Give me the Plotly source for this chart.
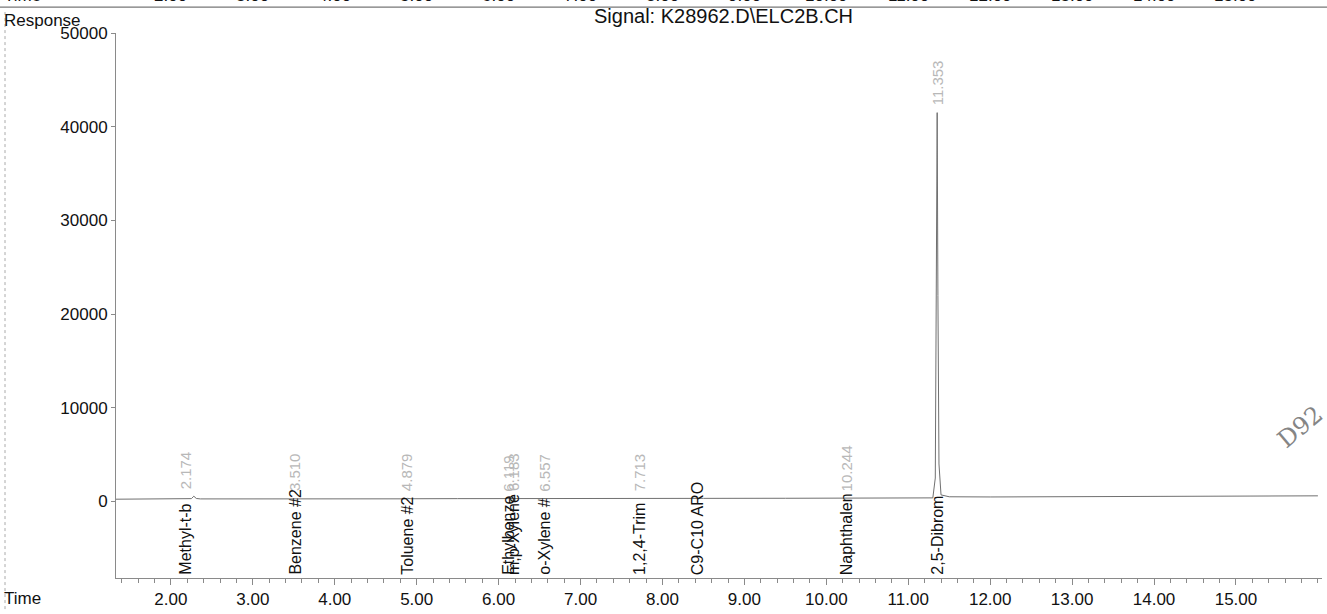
import plotly.graph_objects as go

# ---- chromatogram data -------------------------------------------------------
# detector trace (time in minutes, response in counts)
time_min = [1.32, 1.80, 2.00, 2.20, 2.25, 2.28, 2.31, 2.36, 3.00, 3.49, 3.52,
            3.56, 4.00, 4.86, 4.89, 4.93, 5.50, 6.10, 6.20, 6.55, 6.60, 7.00,
            7.70, 7.75, 8.50, 9.50, 10.23, 10.27, 11.00, 11.30, 11.330, 11.345,
            11.353, 11.362, 11.375, 11.40, 11.50, 12.00, 13.00, 14.00, 15.00,
            16.00]
response = [240, 250, 250, 260, 300, 560, 320, 270, 260, 270, 320,
            280, 270, 280, 330, 290, 300, 320, 330, 320, 300, 310,
            330, 320, 330, 340, 360, 350, 360, 380, 2500, 24000,
            41500, 22000, 4000, 700, 500, 480, 500, 520, 560,
            600]

# integrated peaks: retention time, compound label, apex height
peak_rt = [2.174, 3.510, 4.879, 6.119, 6.183, 6.557, 7.713, 10.244, 11.353]
peak_name = ["Methyl-t-b", "Benzene #2", "Toluene #2", "Ethylbenze",
             "m,p-Xylene", "o-Xylene #", "1,2,4-Trim", "Naphthalen",
             "2,5-Dibrom"]
peak_apex = [560, 320, 330, 320, 330, 320, 330, 360, 41500]

# retention window marker without its own peak
window_pos = [8.43]
window_name = ["C9-C10 ARO"]

x_ticks = [2, 3, 4, 5, 6, 7, 8, 9, 10, 11, 12, 13, 14, 15]
x_ticktext = ["2.00", "3.00", "4.00", "5.00", "6.00", "7.00", "8.00", "9.00",
              "10.00", "11.00", "12.00", "13.00", "14.00", "15.00"]
y_ticks = [0, 10000, 20000, 30000, 40000, 50000]
y_ticktext = ["0", "10000", "20000", "30000", "40000", "50000"]

signal_title = "Signal: K28962.D\\ELC2B.CH"

# ---- geometry ----------------------------------------------------------------
W, H = 1327, 614
M_L, M_R, M_T, M_B = 116, 5, 33, 34
X_RANGE = [1.33, 16.05]
Y_RANGE = [-8170, 50000]
FONT = "Liberation Sans, Arial, sans-serif"
AXIS_GRAY = "#8a8a8a"

plot_w = W - M_L - M_R
plot_h = H - M_T - M_B


def px_to_paper_x(px):
    return (px - M_L) / plot_w


def px_to_paper_y(py):
    return (H - M_B - py) / plot_h


fig = go.Figure()

fig.add_trace(go.Scatter(
    x=time_min, y=response, mode="lines",
    line=dict(color="#707070", width=1),
    hoverinfo="x+y", showlegend=False,
))

annotations = []

# compound names, reading upward from the time axis
for rt, name in zip(peak_rt + window_pos, peak_name + window_name):
    annotations.append(dict(
        x=rt, y=Y_RANGE[0], xref="x", yref="y", text=name,
        textangle=-90, xanchor="center", yanchor="bottom", yshift=1,
        showarrow=False, font=dict(family=FONT, size=16, color="#111"),
    ))

# retention-time labels above each apex
for rt, apex in zip(peak_rt, peak_apex):
    annotations.append(dict(
        x=rt, y=apex, xref="x", yref="y", text=f"{rt:.3f}",
        textangle=-90, xanchor="center", yanchor="bottom", yshift=5,
        showarrow=False, font=dict(family=FONT, size=15, color="#b8b8b8"),
    ))

# header texts
annotations.append(dict(
    x=px_to_paper_x(723), y=px_to_paper_y(16), xref="paper", yref="paper",
    text=signal_title, xanchor="center", yanchor="middle", showarrow=False,
    font=dict(family=FONT, size=20, color="#111"),
))
annotations.append(dict(
    x=px_to_paper_x(2), y=px_to_paper_y(20), xref="paper", yref="paper",
    text="Response", xanchor="left", yanchor="middle", showarrow=False,
    font=dict(family=FONT, size=17, color="#111"),
))
annotations.append(dict(
    x=px_to_paper_x(2), y=px_to_paper_y(601), xref="paper", yref="paper",
    text="Time", xanchor="left", yanchor="middle", showarrow=False,
    font=dict(family=FONT, size=17, color="#111"),
))

# time axis of the preceding panel, cut off by the page edge
top_strip_y = px_to_paper_y(7)
annotations.append(dict(
    x=px_to_paper_x(2), y=top_strip_y, xref="paper", yref="paper",
    text="Time", xanchor="left", yanchor="bottom", showarrow=False,
    font=dict(family=FONT, size=17, color="#111"),
))
for tv, tt in zip(x_ticks, x_ticktext):
    annotations.append(dict(
        x=tv, y=top_strip_y, xref="x", yref="paper", text=tt,
        xanchor="center", yanchor="bottom", showarrow=False,
        font=dict(family=FONT, size=17, color="#111"),
    ))

# handwritten note in the right margin
annotations.append(dict(
    x=px_to_paper_x(1300), y=px_to_paper_y(428), xref="paper", yref="paper",
    text="D92", textangle=-40, xanchor="center", yanchor="middle",
    showarrow=False,
    font=dict(family="DejaVu Serif", size=24, color="#858585"),
))

shapes = [
    # rule under the preceding panel's time axis
    dict(type="line", xref="paper", yref="paper",
         x0=px_to_paper_x(0), x1=px_to_paper_x(W), y0=px_to_paper_y(7),
         y1=px_to_paper_y(7), line=dict(color="#555", width=1)),
    # faint page border on the left
    dict(type="line", xref="paper", yref="paper",
         x0=px_to_paper_x(5), x1=px_to_paper_x(5), y0=px_to_paper_y(12),
         y1=px_to_paper_y(H), line=dict(color="#aaa", width=1, dash="dot")),
]

fig.update_layout(
    width=W, height=H,
    margin=dict(l=M_L, r=M_R, t=M_T, b=M_B, pad=0),
    paper_bgcolor="white", plot_bgcolor="white",
    showlegend=False,
    annotations=annotations,
    shapes=shapes,
    xaxis=dict(
        range=X_RANGE, tickvals=x_ticks, ticktext=x_ticktext,
        showgrid=False, zeroline=False, showline=True, linecolor=AXIS_GRAY,
        linewidth=1, ticks="outside", ticklen=6, tickcolor=AXIS_GRAY,
        tickfont=dict(family=FONT, size=17, color="#111"),
        minor=dict(dtick=0.2, tick0=0, ticks="outside", ticklen=4,
                   tickcolor=AXIS_GRAY, showgrid=False),
    ),
    yaxis=dict(
        range=Y_RANGE, tickvals=y_ticks, ticktext=y_ticktext,
        showgrid=False, zeroline=False, showline=True, linecolor=AXIS_GRAY,
        linewidth=1, ticks="outside", ticklen=4, tickcolor=AXIS_GRAY,
        tickfont=dict(family=FONT, size=17, color="#111"),
    ),
)

fig.write_html("out.html")
